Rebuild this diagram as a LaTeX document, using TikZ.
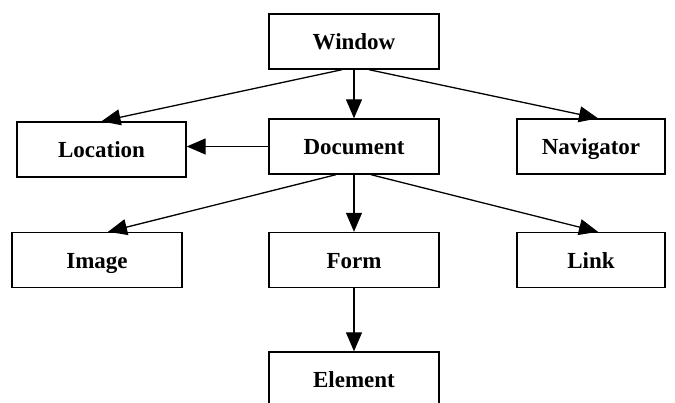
\documentclass[tikz,border=0pt]{standalone}
\usepackage{fontspec}
\setmainfont{Liberation Serif}
\usetikzlibrary{arrows.meta}

\tikzset{
    objbox/.style={draw, line width=1.4pt, minimum height=55pt, inner sep=0pt,
        text height=19pt, text depth=2pt,
        font=\fontsize{23}{27}\selectfont\bfseries},
    objarrow/.style={line width=1.3pt, -{Triangle[length=19pt,width=16pt]}}
}

\begin{document}
\begin{tikzpicture}[x=1pt, y=-1pt]
        \useasboundingbox (0,0) rectangle (675,403);

        \node[objbox, minimum width=170pt] (win) at (354,41.5) {Window};
        \node[objbox, minimum width=169pt] (loc) at (101.5,149.5) {Location};
        \node[objbox, minimum width=170pt] (doc) at (354,146.5) {Document};
        \node[objbox, minimum width=148pt] (nav) at (591,146.5) {Navigator};
        \node[objbox, minimum width=170pt] (img) at (97,260) {Image};
        \node[objbox, minimum width=170pt] (form) at (354,260) {Form};
        \node[objbox, minimum width=148pt] (link) at (591,260) {Link};
        \node[objbox, minimum width=170pt] (elem) at (354,379.5) {Element};

        % from Window
        \draw[objarrow] ([xshift=-12pt]win.south) -- (loc.north);
        \draw[objarrow] (win.south) -- (doc.north);
        \draw[objarrow] ([xshift=15pt]win.south) -- ([xshift=7pt]nav.north);

        % from Document
        \draw[objarrow] (doc.west) -- (doc.west -| loc.east);
        \draw[objarrow] ([xshift=-18pt]doc.south) -- ([xshift=11pt]img.north);
        \draw[objarrow] (doc.south) -- (form.north);
        \draw[objarrow] ([xshift=17pt]doc.south) -- ([xshift=7pt]link.north);

        \draw[objarrow] (form.south) -- (elem.north);
\end{tikzpicture}
\end{document}
